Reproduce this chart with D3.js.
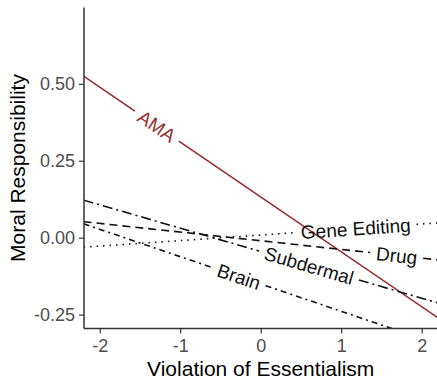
<!DOCTYPE html>
<html>
<head>
<meta charset="utf-8">
<script src="https://cdn.jsdelivr.net/npm/d3@7"></script>
<style>
  body { margin:0; background:#fff; }
  text { font-family: "Liberation Sans", Arial, sans-serif; }
</style>
</head>
<body>
<svg width="437" height="381"></svg>
<script>
// series: fitted values at x = -2.2 and x = 2.2, label spot along x
const series   = ['AMA', 'Gene Editing', 'Drug', 'Subdermal', 'Brain'];
const yLeft    = [0.525, -0.031, 0.052, 0.122, 0.045];
const yRight   = [-0.26, 0.048, -0.072, -0.212, -0.346];
const labelX   = [-1.29, 1.18, 1.69, 0.60, -0.27];
const colors   = ['#962b2b', '#111', '#111', '#111', '#111'];
const dashes   = [null, '1.5,5', '8,5', '10,4,2,4', '6,4,2,4'];

const xDomain = [-2.2, 2.2], yDomain = [-0.2955, 0.748];
const xTicks = [-2, -1, 0, 1, 2];
const yTicks = [-0.25, 0, 0.25, 0.5];

const svg = d3.select('svg');
const x = d3.scaleLinear().domain(xDomain).range([83.6, 437.8]);
const y = d3.scaleLinear().domain(yDomain).range([328.6, 7.5]);

// clip to the panel (Brain runs off the bottom)
svg.append('clipPath').attr('id','panel').append('rect')
  .attr('x', 84).attr('y', 7.5).attr('width', 360).attr('height', 321.1);

const g = svg.append('g').attr('clip-path','url(#panel)');

series.forEach((name, i) => {
  const x0 = x(xDomain[0]), y0 = y(yLeft[i]);
  const x1 = x(xDomain[1]), y1 = y(yRight[i]);
  const len = Math.hypot(x1-x0, y1-y0);
  const ux = (x1-x0)/len, uy = (y1-y0)/len;
  const lx = x(labelX[i]);
  const ly = y0 + (lx-x0)*(y1-y0)/(x1-x0);
  const ang = Math.atan2(y1-y0, x1-x0)*180/Math.PI;

  const t = svg.append('text')
    .attr('transform', `translate(${lx},${ly}) rotate(${ang})`)
    .attr('text-anchor','middle').attr('dy','0.36em')
    .attr('font-size', 19).attr('fill', colors[i])
    .text(name);
  const half = t.node().getComputedTextLength()/2 + 6;

  // line split in two around the label
  const segs = [
    [[x0,y0],[lx-ux*half, ly-uy*half]],
    [[lx+ux*half, ly+uy*half],[x1,y1]]
  ];
  segs.forEach(s => {
    g.append('path')
      .attr('d', d3.line()(s))
      .attr('fill','none').attr('stroke', colors[i])
      .attr('stroke-width', 1.6)
      .attr('stroke-dasharray', dashes[i]);
  });
});

// axes (plain hyphen for negatives, like R)
const hy = f => d => f(d).replace('\u2212','-');
const xAxis = svg.append('g').attr('transform','translate(0,328.6)')
  .call(d3.axisBottom(x).tickValues(xTicks).tickSize(5).tickPadding(6).tickFormat(hy(d3.format('d'))));
const yAxis = svg.append('g').attr('transform','translate(84,0)')
  .call(d3.axisLeft(y).tickValues(yTicks).tickSize(5).tickPadding(4).tickFormat(hy(d3.format('.2f'))));

[xAxis, yAxis].forEach(a => {
  a.select('.domain').attr('stroke','#333').attr('stroke-width',1.5);
  a.selectAll('.tick line').attr('stroke','#333').attr('stroke-width',1.2);
  a.selectAll('.tick text').attr('fill','#4d4d4d').attr('font-size',18)
    .attr('font-family','"Liberation Sans", Arial, sans-serif');
});
xAxis.select('.domain').attr('d','M84,0H437');
yAxis.select('.domain').attr('d','M0,7.5V328.6');

svg.append('text').attr('x', 260.7).attr('y', 376)
  .attr('text-anchor','middle').attr('font-size', 21).attr('fill','#000')
  .text('Violation of Essentialism');
svg.append('text')
  .attr('transform','translate(25,168) rotate(-90)')
  .attr('text-anchor','middle').attr('font-size', 21).attr('fill','#000')
  .text('Moral Responsibility');
</script>
</body>
</html>
